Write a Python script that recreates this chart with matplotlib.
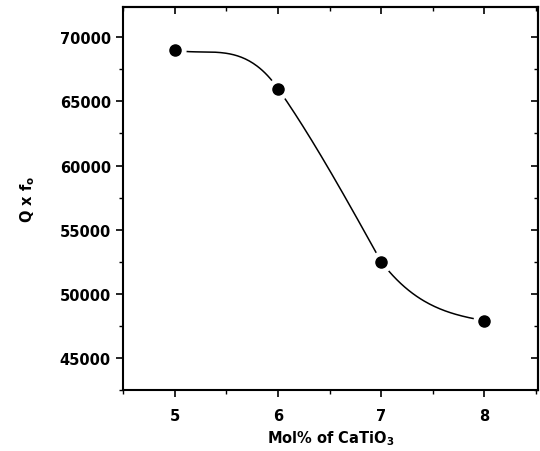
import numpy as np
import matplotlib
matplotlib.use("Agg")
import matplotlib.pyplot as plt
from matplotlib.ticker import MultipleLocator

# ---- data ----
mol_pct = [5, 6, 7, 8]
qf_values = [69000, 66000, 52500, 47900]

# shape of the smooth connecting curve: (start slope, end slope) per segment
segment_slopes = [(-1500, -11500), (-11500, -14500), (-10500, -1500)]

x_ticks = [5, 6, 7, 8]
y_ticks = [45000, 50000, 55000, 60000, 65000, 70000]

plt.rcParams['font.family'] = ['DejaVu Sans']

fig = plt.figure(figsize=(5.4, 4.52), dpi=100)
ax = fig.add_axes([0.2283, 0.135, 0.768, 0.8484])

# piecewise cubic Hermite curve through the data points
xs, ys = [], []
for i in range(len(mol_pct) - 1):
    x0, x1 = mol_pct[i], mol_pct[i + 1]
    y0, y1 = qf_values[i], qf_values[i + 1]
    m0, m1 = segment_slopes[i]
    h = x1 - x0
    t = np.linspace(0, 1, 80)
    h00 = 2 * t**3 - 3 * t**2 + 1
    h10 = t**3 - 2 * t**2 + t
    h01 = -2 * t**3 + 3 * t**2
    h11 = t**3 - t**2
    xs.append(x0 + t * h)
    ys.append(h00 * y0 + h10 * h * m0 + h01 * y1 + h11 * h * m1)
xs = np.concatenate(xs)
ys = np.concatenate(ys)

ax.plot(xs, ys, color='black', lw=1.1, zorder=2)
# white halo to leave gaps around the points, then the points
ax.plot(mol_pct, qf_values, 'o', ms=15, color='white', mec='white', zorder=3)
ax.plot(mol_pct, qf_values, 'o', ms=8.0, color='black', mec='black', zorder=4)

ax.set_xlim(4.5, 8.52)
ax.set_ylim(42500, 72400)
ax.set_xticks(x_ticks)
ax.set_yticks(y_ticks)
ax.xaxis.set_minor_locator(MultipleLocator(0.5))
ax.yaxis.set_minor_locator(MultipleLocator(2500))
ax.set_xticklabels([str(v) for v in x_ticks])
ax.set_yticklabels([str(v) for v in y_ticks])

ax.tick_params(axis='both', which='major', direction='out', length=5, width=1.2,
               labelsize=10.5, pad=4)
ax.tick_params(axis='both', which='minor', direction='out', length=3, width=1.0)
ax.tick_params(axis='x', which='major', pad=8)
for lab in ax.get_xticklabels() + ax.get_yticklabels():
    lab.set_fontweight('bold')

# inward ticks on top and right
sec_x = ax.secondary_xaxis('top')
sec_x.set_xticks(x_ticks)
sec_x.xaxis.set_minor_locator(MultipleLocator(0.5))
sec_x.tick_params(which='major', direction='in', length=5, width=1.2, labeltop=False)
sec_x.tick_params(which='minor', direction='in', length=3, width=1.0)
sec_y = ax.secondary_yaxis('right')
sec_y.set_yticks(y_ticks)
sec_y.yaxis.set_minor_locator(MultipleLocator(2500))
sec_y.tick_params(which='major', direction='in', length=5, width=1.2, labelright=False)
sec_y.tick_params(which='minor', direction='in', length=3, width=1.0)
sec_x.spines['top'].set_linewidth(1.5)
sec_y.spines['right'].set_linewidth(1.5)

for s in ax.spines.values():
    s.set_linewidth(1.5)

ax.set_xlabel('Mol% of CaTiO$_\\mathregular{3}$', fontsize=10.5, fontweight='bold', labelpad=4)
ax.set_ylabel('Q x f$_\\mathregular{o}$', fontsize=10.5, fontweight='bold', labelpad=16)

fig.savefig('out.png', dpi=100)
